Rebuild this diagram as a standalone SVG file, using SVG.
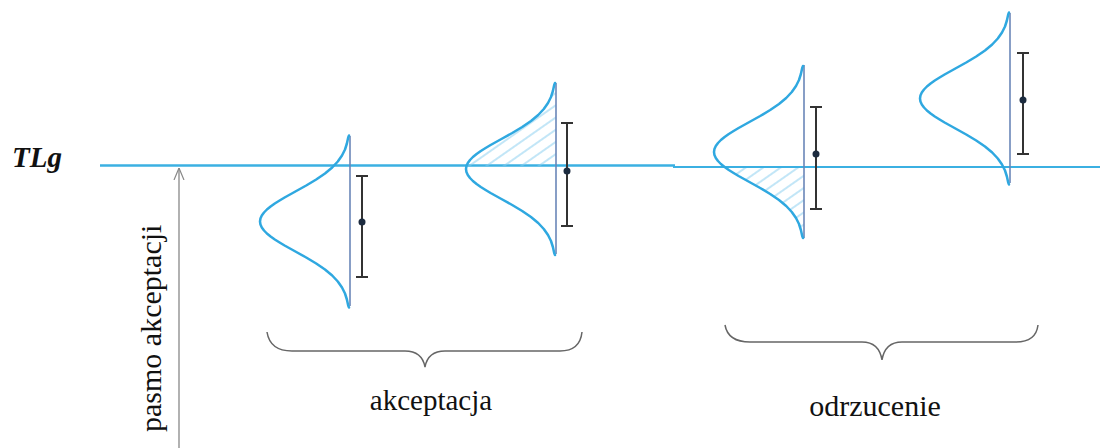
<svg xmlns="http://www.w3.org/2000/svg" xmlns:xlink="http://www.w3.org/1999/xlink" width="1100" height="448" viewBox="0 0 1100 448">
<style>
.curve{fill:none;stroke:#2fa8e0;stroke-width:2.5;stroke-linejoin:round;stroke-linecap:round}
.vline{stroke:#6a86b8;stroke-width:1.6}
.bar{stroke:#333;stroke-width:2;fill:none}
.dot{fill:#1c2b3f}
.tl{stroke:#3bb0e2;fill:none}
.brace{fill:none;stroke:#666;stroke-width:1.5}
.serif{font-family:"Liberation Serif","Times New Roman",serif;fill:#111}
</style>
<defs>
<path id="gauss" d="M -1 -86 L -1.8 -84 L -3.1 -78 L -5 -72 L -8 -66 L -12.2 -60 L -17.8 -54 L -25 -48 L -33.8 -42 L -43.8 -36 L -54.6 -30 L -65.4 -24 L -70.4 -21 L -75.2 -18 L -79.4 -15 L -83.1 -12 L -86 -9 L -88.2 -6 L -89.55 -3 L -90 0 L -89.55 3 L -88.2 6 L -86 9 L -83.1 12 L -79.4 15 L -75.2 18 L -70.4 21 L -65.4 24 L -54.6 30 L -43.8 36 L -33.8 42 L -25 48 L -17.8 54 L -12.2 60 L -8 66 L -5 72 L -3.1 78 L -1.8 84 L -1 86"/>
<path id="shape" d="M 0 -86 L -1.8 -84 L -3.1 -78 L -5 -72 L -8 -66 L -12.2 -60 L -17.8 -54 L -25 -48 L -33.8 -42 L -43.8 -36 L -54.6 -30 L -65.4 -24 L -70.4 -21 L -75.2 -18 L -79.4 -15 L -83.1 -12 L -86 -9 L -88.2 -6 L -89.55 -3 L -90 0 L -89.55 3 L -88.2 6 L -86 9 L -83.1 12 L -79.4 15 L -75.2 18 L -70.4 21 L -65.4 24 L -54.6 30 L -43.8 36 L -33.8 42 L -25 48 L -17.8 54 L -12.2 60 L -8 66 L -5 72 L -3.1 78 L -1.8 84 L 0 86 Z"/>
<pattern id="hatch" patternUnits="userSpaceOnUse" width="10" height="10" patternTransform="rotate(-35)">
<line x1="0" y1="5" x2="10" y2="5" stroke="#86cdef" stroke-width="1"/>
</pattern>
<clipPath id="clip2"><use xlink:href="#shape" href="#shape" transform="translate(556 169)"/></clipPath>
<clipPath id="clip3"><use xlink:href="#shape" href="#shape" transform="translate(804 152)"/></clipPath>
<marker id="openArrow" viewBox="0 0 12 12" refX="12" refY="6" markerWidth="12" markerHeight="12" markerUnits="userSpaceOnUse" orient="auto">
<path d="M 0 1 L 12 6 L 0 11" fill="none" stroke="#888" stroke-width="1.2"/>
</marker>
</defs>

<g id="connectors">
<line class="tl" x1="100" y1="165.5" x2="675" y2="165.5" stroke-width="2.6"/>
<line class="tl" x1="673" y1="167" x2="1100" y2="167" stroke-width="2.2"/>
<line x1="179" y1="448" x2="179" y2="168" stroke="#888" stroke-width="1.3" marker-end="url(#openArrow)"/>
</g>

<g id="label-tlg">
<text class="serif" x="12" y="167" font-size="29" font-weight="bold" font-style="italic">TLg</text>
</g>
<g id="label-pasmo">
<text class="serif" transform="translate(161 432) rotate(-90)" font-size="30">pasmo akceptacji</text>
</g>

<g id="dist1">
<line class="vline" x1="350" y1="136" x2="350" y2="306"/>
<use xlink:href="#gauss" href="#gauss" class="curve" transform="translate(350 221.5)"/>
<g class="bar"><line x1="362" y1="176" x2="362" y2="277"/><line x1="356" y1="176" x2="368" y2="176"/><line x1="356" y1="277" x2="368" y2="277"/></g>
<circle class="dot" cx="362" cy="222" r="3.5"/>
</g>

<g id="dist2">
<g clip-path="url(#clip2)"><rect x="460" y="80" width="100" height="86" fill="url(#hatch)"/></g>
<line class="vline" x1="556" y1="83" x2="556" y2="254"/>
<use xlink:href="#gauss" href="#gauss" class="curve" transform="translate(556 169)"/>
<g class="bar"><line x1="567" y1="123" x2="567" y2="226"/><line x1="561" y1="123" x2="573" y2="123"/><line x1="561" y1="226" x2="573" y2="226"/></g>
<circle class="dot" cx="567" cy="171" r="3.5"/>
</g>

<g id="dist3">
<g clip-path="url(#clip3)"><rect x="705" y="168" width="100" height="75" fill="url(#hatch)"/></g>
<line class="vline" x1="804" y1="65" x2="804" y2="238"/>
<use xlink:href="#gauss" href="#gauss" class="curve" transform="translate(804 152)"/>
<g class="bar"><line x1="816" y1="107" x2="816" y2="209"/><line x1="810" y1="107" x2="822" y2="107"/><line x1="810" y1="209" x2="822" y2="209"/></g>
<circle class="dot" cx="816" cy="154" r="3.5"/>
</g>

<g id="dist4">
<line class="vline" x1="1010" y1="13" x2="1010" y2="183"/>
<use xlink:href="#gauss" href="#gauss" class="curve" transform="translate(1010 98.5)"/>
<g class="bar"><line x1="1023" y1="53" x2="1023" y2="154"/><line x1="1017" y1="53" x2="1029" y2="53"/><line x1="1017" y1="154" x2="1029" y2="154"/></g>
<circle class="dot" cx="1023" cy="100" r="3.5"/>
</g>

<g id="group-akceptacja">
<path class="brace" d="M267 332 Q270 351 292 351 L405 351 Q422 351 425 367 Q428 351 445 351 L560 351 Q580 351 582 332"/>
<text class="serif" x="431" y="410" font-size="29" text-anchor="middle">akceptacja</text>
</g>

<g id="group-odrzucenie">
<path class="brace" d="M725 325 Q728 342 750 342 L862 342 Q879 342 882 360 Q885 342 902 342 L1016 342 Q1036 342 1038 325"/>
<text class="serif" x="875" y="416" font-size="30" text-anchor="middle">odrzucenie</text>
</g>
</svg>
